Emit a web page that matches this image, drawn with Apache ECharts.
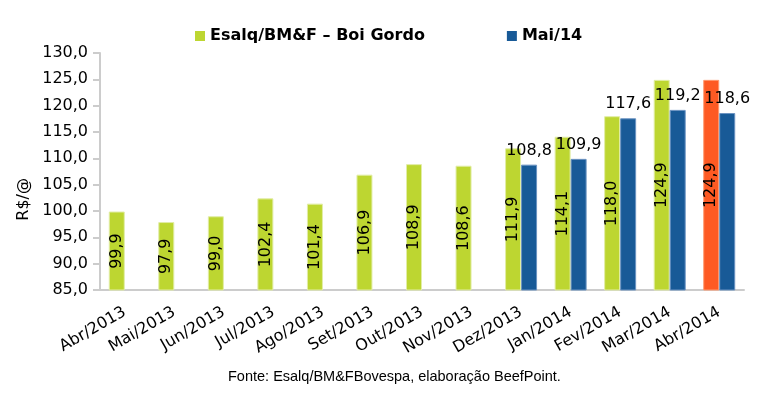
<!DOCTYPE html>
<html>
<head>
<meta charset="utf-8">
<script src="https://cdn.jsdelivr.net/npm/echarts@6/dist/echarts.min.js"></script>
<style>
  html, body { margin: 0; padding: 0; background: #fff; }
  #chart { width: 774px; height: 398px; }
</style>
</head>
<body>
<div id="chart"></div>
<script>
// dados
var meses = ['Abr/2013', 'Mai/2013', 'Jun/2013', 'Jul/2013', 'Ago/2013', 'Set/2013', 'Out/2013',
    'Nov/2013', 'Dez/2013', 'Jan/2014', 'Fev/2014', 'Mar/2014', 'Abr/2014'];
var boiGordo = [99.9, 97.9, 99.0, 102.4, 101.4, 106.9, 108.9, 108.6, 111.9, 114.1, 118.0, 124.9, 124.9];
var mai14 = [null, null, null, null, null, null, null, null, 108.8, 109.9, 117.6, 119.2, 118.6];
var mesDestaque = 'Abr/2014';

function fmt(v){
    return Number(v).toFixed(1).replace('.', ',');
}

var myChart = echarts.init(document.getElementById('chart'));

var dadosVerde = boiGordo.map(function(v, i){
    if (meses[i] == mesDestaque) {
        return { value: v, itemStyle: { color: '#fe5a23', borderColor: '#ff9a70' } };
    }
    return v;
});

var option = {
    animation: false,
    textStyle: { fontFamily: 'DejaVu Sans' },
    legend: {
        left: 190,
        top: 23,
        itemWidth: 10,
        itemHeight: 10,
        itemGap: 82,
        icon: 'rect',
        itemStyle: { borderWidth: 0 },
        textStyle: { fontSize: 16, fontWeight: 'bold', color: '#000', fontFamily: 'DejaVu Sans' },
        data: ['Esalq/BM&F – Boi Gordo', 'Mai/14']
    },
    grid: { left: 100, right: 30, top: 53, bottom: 108 },
    xAxis: {
        type: 'category',
        data: meses,
        axisLine: { lineStyle: { color: '#cccccc', width: 2 } },
        axisTick: { length: 7, lineStyle: { color: '#cccccc', width: 2 } },
        axisLabel: { rotate: 30, margin: 21, fontSize: 16, color: '#000', interval: 0 }
    },
    yAxis: {
        type: 'value',
        min: 85,
        max: 130,
        interval: 5,
        splitLine: { show: false },
        axisLine: { show: true, lineStyle: { color: '#cccccc', width: 2 } },
        axisTick: { show: true, length: 7, lineStyle: { color: '#cccccc', width: 2 } },
        axisLabel: { margin: 12, fontSize: 16, color: '#000', formatter: fmt }
    },
    graphic: [
        {
            type: 'text',
            left: 16,
            top: 178,
            rotation: Math.PI / 2,
            style: { text: 'R$/@', fontSize: 16, fill: '#000', fontFamily: 'DejaVu Sans' }
        },
        {
            type: 'text',
            left: 228,
            top: 369,
            style: { text: 'Fonte: Esalq/BM&FBovespa, elaboração BeefPoint.', fontSize: 14.5, fill: '#000', fontFamily: 'Liberation Sans' }
        }
    ],
    series: [
        {
            name: 'Esalq/BM&F – Boi Gordo',
            type: 'bar',
            barWidth: 16,
            barGap: '0%',
            data: dadosVerde,
            itemStyle: { color: '#bdd631', borderColor: '#e2eda6', borderWidth: 1 },
            label: {
                show: true,
                position: 'inside',
                rotate: 90,
                fontSize: 16,
                color: '#000',
                formatter: function(p){ return fmt(p.value); }
            }
        },
        {
            name: 'Mai/14',
            type: 'bar',
            barWidth: 16,
            data: mai14,
            itemStyle: { color: '#185a97', borderColor: '#6b93c2', borderWidth: 1 },
            label: {
                show: true,
                position: 'top',
                distance: 6,
                fontSize: 16,
                color: '#000',
                formatter: function(p){ return fmt(p.value); }
            }
        }
    ]
};

myChart.setOption(option);
</script>
</body>
</html>
